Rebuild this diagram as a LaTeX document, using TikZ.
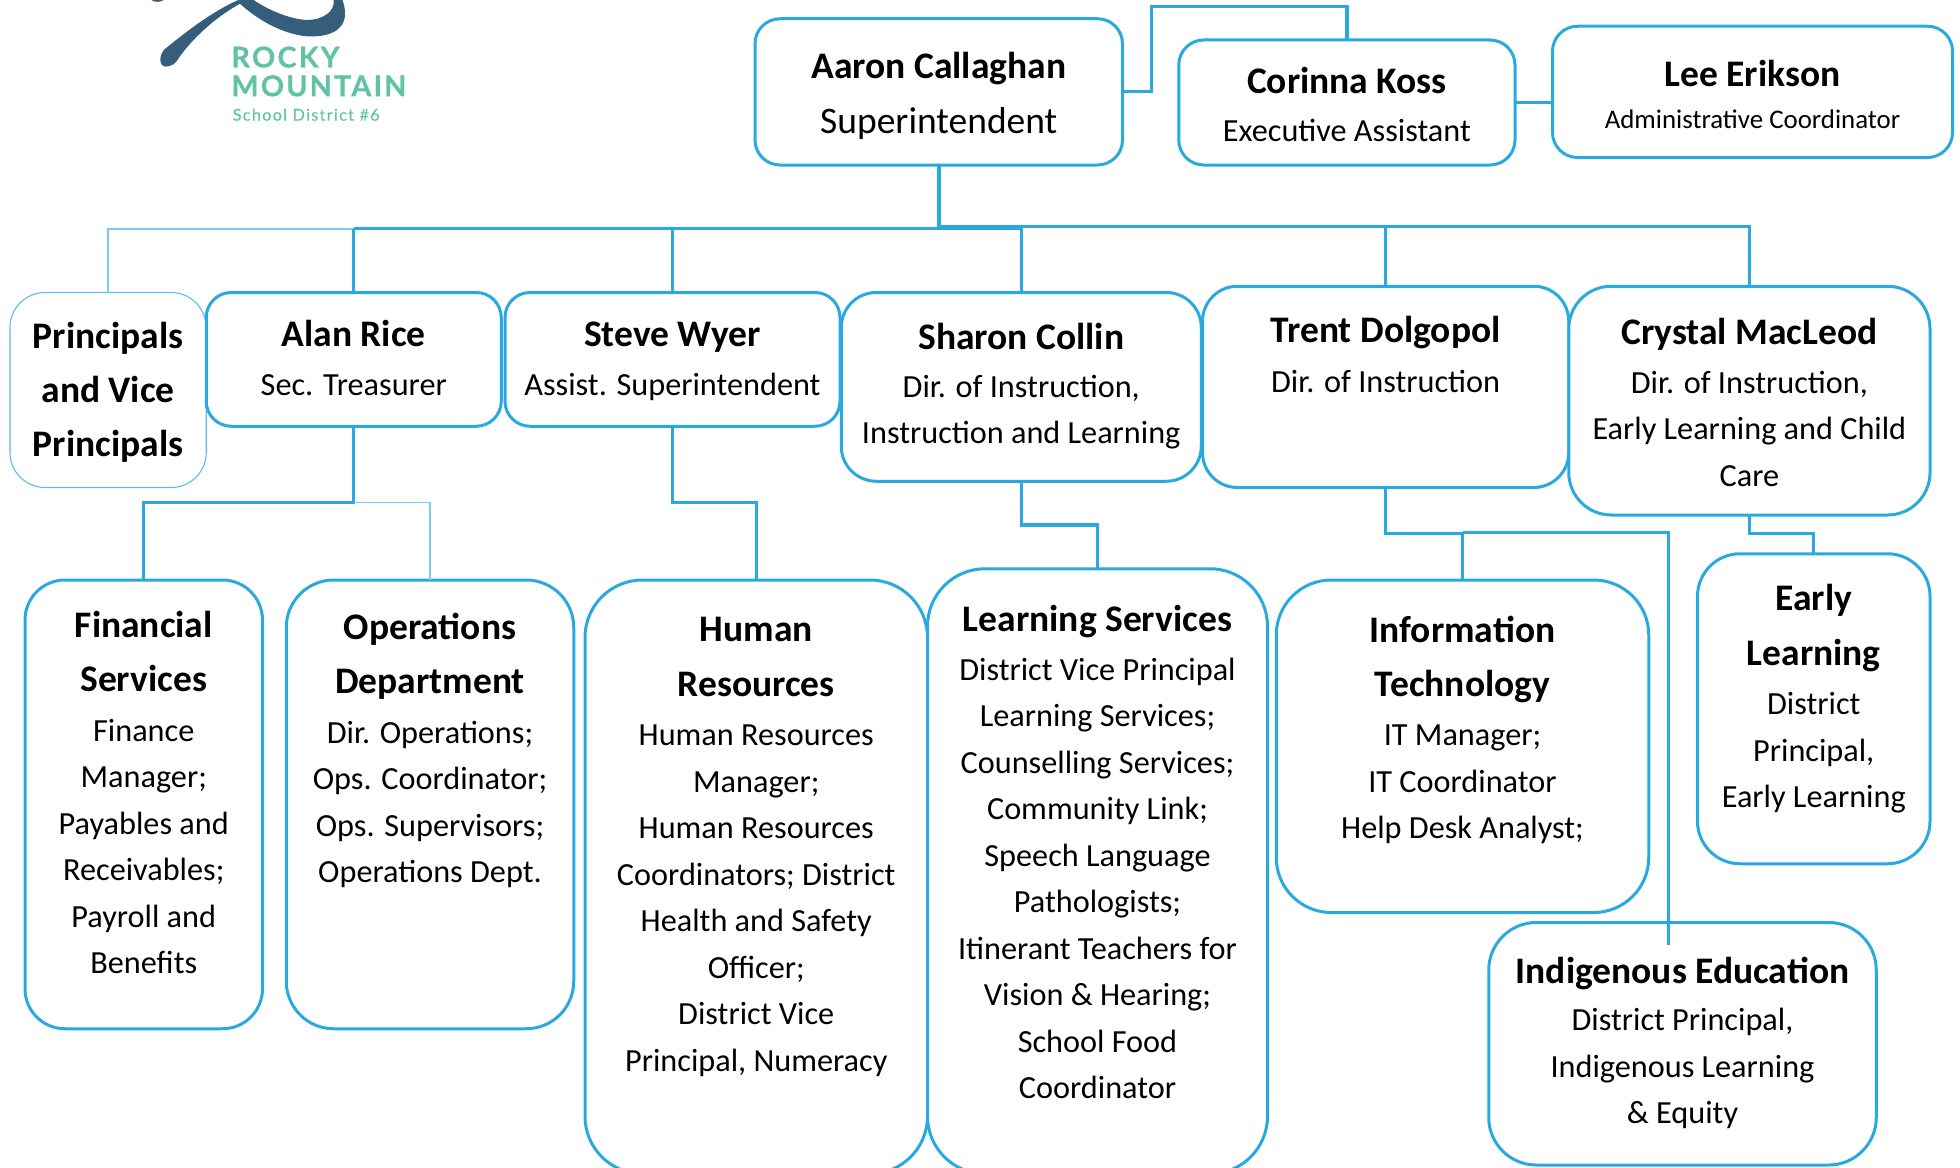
\documentclass[tikz,border=0pt]{standalone}
\usepackage{fontspec}
\setmainfont{Carlito}
\newfontfamily\lato{Lato}
\definecolor{orgblue}{HTML}{2AA9DF}
\definecolor{thinblue}{HTML}{7CCBEA}
\definecolor{logoblue}{HTML}{355E7C}
\definecolor{logogreen}{HTML}{62C3A4}
\newcommand{\ttl}[1]{{\fontsize{30}{37.2}\selectfont\bfseries #1}}
\newcommand{\bxx}[9]{%
 \node[orgbox,#5,rounded corners=#6,minimum width=#3-#1,minimum height=#4-#2] (#7) at ({(#1+#3)/2},{(#2+#4)/2}) {};
 \node[txt] (#7-t) at ({(#1+#3)/2},#8) {#9};}
\tikzset{
 orgbox/.style={draw=orgblue,line width=2.4pt,fill=white,inner sep=0,outer sep=0},
 thinbox/.style={draw=orgblue!75,line width=.9pt},
 txt/.style={anchor=base,inner sep=0,align=center,font=\fontsize{25.8}{37.2}\selectfont},
 conn/.style={draw=orgblue,line width=2.6pt},
 thinconn/.style={draw=thinblue,line width=1.2pt},
}
\begin{document}
\begin{tikzpicture}[x=1pt,y=-1pt]
\useasboundingbox (0,0) rectangle (1568,934);
\clip (0,0) rectangle (1568,934);
% logo
\fill[logoblue] (190.7,0) .. controls (170,9) and (148,26) .. (131,40) .. controls (126,47) and (128,55) .. (135,53) .. controls (140,52) and (142,48) .. (144,45) .. controls (155,30) and (172,14) .. (192,3) .. controls (205,15) and (225,27) .. (245,29) .. controls (262,30) and (276,25) .. (276,11) .. controls (276,6) and (275,3) .. (274,0) -- (267,0) .. controls (268,8) and (260,16) .. (245,16) .. controls (230,15) and (213,7) .. (203,0) -- cycle;
\fill[logoblue] (121,0) -- (131,0) .. controls (128,2) and (124,2) .. (121,0) -- cycle;
\node[anchor=base west,inner sep=0,text=logogreen,font=\lato\fontsize{23}{23}\selectfont\bfseries] (logoa) at (185,54) {\addfontfeature{LetterSpace=8,FakeBold=0.6}ROCKY};
\node[anchor=base west,inner sep=0,text=logogreen,font=\lato\fontsize{23}{23}\selectfont\bfseries] (logob) at (185,77) {\addfontfeature{LetterSpace=7.5,FakeBold=0.6}MOUNTAIN};
\node[anchor=base west,inner sep=0,text=logogreen,font=\lato\fontsize{13}{13}\selectfont] (logoc) at (186,96.5) {\addfontfeature{LetterSpace=8,FakeBold=0.3}School District \#6};
\coordinate (h1) at (751,183);
\coordinate (h2) at (751,181);
\coordinate (a) at (921,73);
\bxx{604}{15}{898}{132}{}{20pt}{aaron}{107}{\ttl{Aaron Callaghan}\\[7pt]\fontsize{30}{37}\selectfont Superintendent}
\bxx{943}{32}{1212}{132}{}{20pt}{corinna}{113}{\ttl{Corinna Koss}\\[1pt]Executive Assistant}
\bxx{1242}{21}{1562}{126}{}{20pt}{lee}{103}{\ttl{Lee Erikson}\\[-3pt]\fontsize{21.5}{37}\selectfont Administrative Coordinator}
\bxx{8}{234}{165}{390}{thinbox}{28pt}{princ}{365}{\ttl{Principals}\\[6pt]\ttl{and Vice}\\[6pt]\ttl{Principals}}
\bxx{165}{234}{401}{341}{}{20pt}{alan}{316}{\ttl{Alan Rice}\\[2pt]Sec. Treasurer}
\bxx{404}{234}{672}{341}{}{20pt}{steve}{316}{\ttl{Steve Wyer}\\[2pt]Assist. Superintendent}
\bxx{673}{234}{961}{385}{}{28pt}{sharon}{355}{\ttl{Sharon Collin}\\[1pt]Dir. of Instruction,\\Instruction and Learning}
\bxx{962}{229}{1255}{390}{}{28pt}{trent}{314}{\ttl{Trent Dolgopol}\\[3pt]Dir. of Instruction}
\bxx{1255}{229}{1544}{412}{}{34pt}{crystal}{389}{\ttl{Crystal MacLeod}\\[2pt]Dir. of Instruction,\\Early Learning and Child\\Care}
\bxx{20}{464}{210}{823}{}{32pt}{fin}{779}{\ttl{Financial}\\[6pt]\ttl{Services}\\[3pt]Finance\\Manager;\\Payables and\\Receivables;\\Payroll and\\Benefits}
\bxx{229}{464}{459}{823}{}{38pt}{ops}{706}{\ttl{Operations}\\[6pt]\ttl{Department}\\[2.5pt]Dir. Operations;\\Ops. Coordinator;\\Ops. Supervisors;\\Operations Dept.}
\bxx{468}{464}{742}{939}{}{46pt}{hr}{857}{\ttl{Human}\\[7pt]\ttl{Resources}\\[2pt]Human Resources\\Manager;\\Human Resources\\Coordinators; District\\Health and Safety\\Officer;\\District Vice\\Principal, Numeracy}
\bxx{742}{455}{1014}{939}{}{46pt}{ls}{879}{\ttl{Learning Services}\\[2pt]District Vice Principal\\Learning Services;\\Counselling Services;\\Community Link;\\Speech Language\\Pathologists;\\Itinerant Teachers for\\Vision \& Hearing;\\School Food\\Coordinator}
\bxx{1021}{464}{1319}{730}{}{44pt}{it}{671}{\ttl{Information}\\[6pt]\ttl{Technology}\\[2pt]IT Manager;\\IT Coordinator\\Help Desk Analyst;}
\bxx{1358}{443}{1544}{691}{}{34pt}{early}{646}{\ttl{Early}\\[7pt]\ttl{Learning}\\[2pt]District\\Principal,\\Early Learning}
\bxx{1191}{738}{1501}{932}{}{38pt}{indig}{899}{\ttl{Indigenous Education}\\[1pt]District Principal,\\Indigenous Learning\\\& Equity}
% connectors
\draw[conn,line width=3pt] (aaron.south) -- (h1);
\draw[thinconn] (alan.north |- h1) -- (princ.north |- h1) -- (princ.north);
\draw[conn] (alan.north |- h1) -- (h1);
\draw[conn] (alan.north |- h1) -- (alan.north);
\draw[conn] (h1) -| (steve.north);
\draw[conn] (h1) -| (sharon.north);
\draw[conn] (h2) -| (trent.north);
\draw[conn] (h2) -| (crystal.north);
\draw[conn] (aaron.east |- a) -- (a) -- (921,5) -| (corinna.north);
\draw[conn] (corinna.east) -- (lee.west |- corinna.east);
\draw[conn] (alan.south) |- (115,402) -- (fin.north);
\draw[thinconn] (alan.south |- 0,402) -| (ops.north);
\draw[conn] (steve.south) -- (steve.south |- 0,402) -| (hr.north);
\draw[conn] (sharon.south) -- (sharon.south |- 0,420) -| (ls.north);
\draw[conn] (trent.south) -- (trent.south |- 0,427) -| (it.north);
\draw[conn] (it.north |- 0,426) -- (1335,426) -- (1335,756);
\draw[conn] (crystal.south) -- (crystal.south |- 0,427) -| (early.north);
\end{tikzpicture}
\end{document}
